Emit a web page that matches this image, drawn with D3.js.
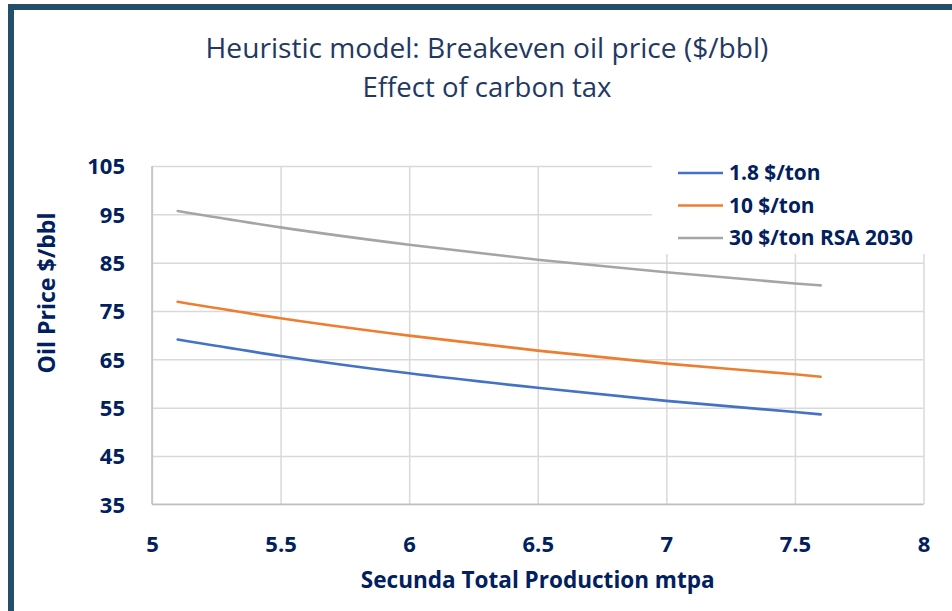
<!DOCTYPE html>
<html>
<head>
<meta charset="utf-8">
<script src="https://cdn.jsdelivr.net/npm/d3@7"></script>
<style>
  body { margin: 0; background: #fff; }
  text { font-family: "Open Sans", "Noto Sans", sans-serif; }
</style>
</head>
<body>
<div id="chart"></div>
<script>
// Datos
const production = [5.1, 5.5, 6, 6.5, 7, 7.5, 7.6];
const tax18 = [69.1, 65.7, 62.1, 59.1, 56.4, 54.1, 53.6];
const tax10 = [76.9, 73.5, 69.9, 66.8, 64.1, 61.9, 61.4];
const tax30 = [95.7, 92.3, 88.7, 85.6, 83.0, 80.7, 80.3];
const seriesNames = ['1.8 $/ton', '10 $/ton', '30 $/ton RSA 2030'];
const xTicks = [5, 5.5, 6, 6.5, 7, 7.5, 8];
const yTicks = [35, 45, 55, 65, 75, 85, 95, 105];

//Colores fijos
const COLOR_BLUE = '#4472C4',
  COLOR_ORANGE = '#ED7D31',
  COLOR_GREY = '#A5A5A5',
  COLOR_TEXT = '#002060',
  COLOR_TITLE = '#1f3864',
  COLOR_FRAME = '#22506a';

const W = 952, H = 611;
let margin = {top: 166, right: 28.5, bottom: 106.7, left: 152};
let width = W - margin.left - margin.right,
    height = H - margin.top - margin.bottom;

let root = d3.select('#chart').append('svg')
  .attr('width', W).attr('height', H);

// marco
root.append('rect').attr('x', 8).attr('y', 4).attr('width', W).attr('height', 6).attr('fill', COLOR_FRAME);
root.append('rect').attr('x', 8).attr('y', 4).attr('width', 6).attr('height', H).attr('fill', COLOR_FRAME);

// ajusta el tamaño de fuente para ocupar un ancho dado
function fitWidth(sel, target) {
  let node = sel.node();
  let fs = parseFloat(sel.attr('font-size'));
  let w = node.getComputedTextLength();
  sel.attr('font-size', fs * target / w);
}

// Títulos
root.append('text').attr('x', 487).attr('y', 58).attr('text-anchor', 'middle')
  .attr('font-size', 22).attr('fill', COLOR_TITLE)
  .text('Heuristic model: Breakeven oil price ($/bbl)')
  .call(fitWidth, 563);
root.append('text').attr('x', 487).attr('y', 97).attr('text-anchor', 'middle')
  .attr('font-size', 22).attr('fill', COLOR_TITLE)
  .text('Effect of carbon tax')
  .call(fitWidth, 249);

let svg = root.append('g').attr('transform', 'translate(' + margin.left + ',' + margin.top + ')');

let x = d3.scaleLinear().domain([5, 8]).range([0, width]);
let y = d3.scaleLinear().domain([35, 105]).range([height, 0]);

// Rejilla
svg.append('g')
  .call(d3.axisBottom(x).tickValues(xTicks).tickSize(-height).tickFormat(''))
  .attr('transform', 'translate(0,' + height + ')')
  .call(function(g) { g.select('.domain').remove(); })
  .call(function(g) { g.selectAll('.tick line').attr('stroke', '#d9d9d9').attr('stroke-width', 1.5); });

svg.append('g')
  .call(d3.axisLeft(y).tickValues(yTicks).tickSize(-width).tickFormat(''))
  .call(function(g) { g.select('.domain').remove(); })
  .call(function(g) { g.selectAll('.tick line').attr('stroke', '#d9d9d9').attr('stroke-width', 1.5); });

// ejes
svg.append('line').attr('x1', 0).attr('x2', 0).attr('y1', 0).attr('y2', height)
  .attr('stroke', '#bfbfbf').attr('stroke-width', 1.5);
svg.append('line').attr('x1', 0).attr('x2', width).attr('y1', height).attr('y2', height)
  .attr('stroke', '#bfbfbf').attr('stroke-width', 1.5);

// Etiquetas de ejes
let xAxis = svg.append('g').attr('transform', 'translate(0,' + height + ')')
  .call(d3.axisBottom(x).tickValues(xTicks).tickSize(0).tickPadding(0).tickFormat(d3.format('')));
xAxis.select('.domain').remove();
xAxis.selectAll('text')
  .attr('dy', 0).attr('y', 48)
  .attr('font-family', '"Open Sans", sans-serif')
  .attr('font-size', 22).attr('font-weight', 700).attr('fill', COLOR_TEXT);

let yAxis = svg.append('g')
  .call(d3.axisLeft(y).tickValues(yTicks).tickSize(0).tickPadding(0));
yAxis.select('.domain').remove();
yAxis.selectAll('text')
  .attr('x', -27).attr('dy', '0.36em')
  .attr('font-family', '"Open Sans", sans-serif')
  .attr('font-size', 22).attr('font-weight', 700).attr('fill', COLOR_TEXT);

root.append('text').attr('x', margin.left + width / 2).attr('y', 588).attr('text-anchor', 'middle')
  .attr('font-size', 20).attr('font-weight', 700).attr('fill', COLOR_TEXT)
  .text('Secunda Total Production mtpa')
  .call(fitWidth, 354);

root.append('text').attr('transform', 'translate(55,293) rotate(-90)').attr('text-anchor', 'middle')
  .attr('font-size', 20).attr('font-weight', 700).attr('fill', COLOR_TEXT)
  .text('Oil Price $/bbl')
  .call(fitWidth, 161);

// Líneas
let series = [tax18, tax10, tax30];
let colors = [COLOR_BLUE, COLOR_ORANGE, COLOR_GREY];

let line = d3.line()
  .x(function(d, i) { return x(production[i]); })
  .y(function(d) { return y(d); })
  .curve(d3.curveMonotoneX);

svg.selectAll('.serie')
  .data(series)
  .enter()
  .append('path')
  .attr('class', 'serie')
  .attr('fill', 'none')
  .attr('stroke', function(d, i) { return colors[i]; })
  .attr('stroke-width', 2.6)
  .attr('stroke-linecap', 'round')
  .attr('d', line);

// Leyenda
let legend = root.append('g');
legend.append('rect').attr('x', 652).attr('y', 158).attr('width', 280).attr('height', 96).attr('fill', '#fff');
let item = legend.selectAll('.item')
  .data(seriesNames)
  .enter()
  .append('g')
  .attr('transform', function(d, i) { return 'translate(678,' + (173 + i * 32.5) + ')'; });
item.append('line').attr('x1', 0).attr('x2', 45)
  .attr('stroke', function(d, i) { return colors[i]; }).attr('stroke-width', 2.6);
let legendText = item.append('text').attr('x', 51).attr('dy', '0.35em')
  .attr('font-size', 18).attr('font-weight', 700).attr('fill', COLOR_TEXT)
  .text(function(d) { return d; });
// tamaño según la etiqueta más larga
let longest = legendText.filter(function(d, i) { return i == 2; });
longest.call(fitWidth, 184);
legendText.attr('font-size', longest.attr('font-size'));
</script>
</body>
</html>
